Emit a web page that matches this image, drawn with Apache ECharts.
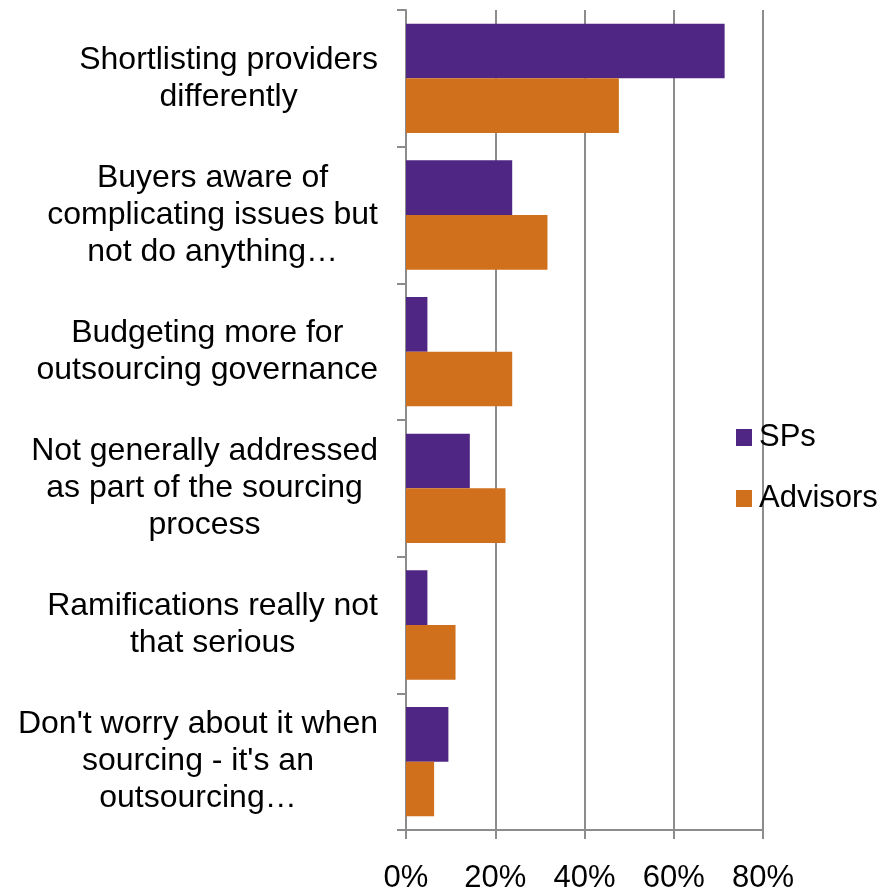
<!DOCTYPE html>
<html>
<head>
<meta charset="utf-8">
<script src="https://cdn.jsdelivr.net/npm/echarts@6/dist/echarts.min.js"></script>
<style>
  html, body { margin: 0; padding: 0; background: #fff; }
  #chart { width: 890px; height: 891px; }
</style>
</head>
<body>
<div id="chart"></div>
<script>
const categories = [
  "Shortlisting providers\ndifferently",
  "Buyers aware of\ncomplicating issues but\nnot do anything…",
  "Budgeting more for\noutsourcing governance",
  "Not generally addressed\nas part of the sourcing\nprocess",
  "Ramifications really not\nthat serious",
  "Don't worry about it when\nsourcing - it's an\noutsourcing…",
];
const spsValues = [71.4, 23.8, 4.8, 14.3, 4.8, 9.5];
const advisorsValues = [47.7, 31.7, 23.8, 22.3, 11.1, 6.3];
const xTicks = [0, 20, 40, 60, 80];

const FONT = "'Liberation Sans', Arial, sans-serif";
const GRAY = "#8c8c8c";

const chart = echarts.init(document.getElementById("chart"), null, {
  renderer: "canvas",
});

chart.setOption({
  backgroundColor: "#fff",
  animation: false,
  grid: {
    left: 406,
    right: 127,
    top: 10,
    bottom: 61,
    containLabel: false,
    outerBoundsMode: "none",
  },
  legend: {
    orient: "vertical",
    left: 731,
    top: 417,
    itemWidth: 16,
    itemHeight: 17,
    itemGap: 30,
    icon: "rect",
    textStyle: {
      fontFamily: FONT,
      fontSize: 31,
      color: "#000",
      padding: [0, 0, 0, 2],
    },
    data: ["SPs", "Advisors"],
  },
  xAxis: {
    type: "value",
    min: xTicks[0],
    max: xTicks[xTicks.length - 1],
    interval: 20,
    axisLine: { show: true, lineStyle: { color: GRAY, width: 2 } },
    axisTick: { show: true, length: 9, lineStyle: { color: GRAY, width: 2 } },
    splitLine: { show: true, lineStyle: { color: GRAY, width: 2 } },
    axisLabel: {
      formatter: "{value}%",
      fontFamily: FONT,
      fontSize: 31,
      color: "#000",
      margin: 33,
    },
  },
  yAxis: {
    type: "category",
    inverse: true,
    data: categories,
    axisLine: { show: true, lineStyle: { color: GRAY, width: 2 } },
    axisTick: { show: true, length: 9, lineStyle: { color: GRAY, width: 2 } },
    axisLabel: {
      margin: 28,
      interval: 0,
      fontFamily: FONT,
      fontSize: 32,
      lineHeight: 37,
      color: "#000",
      formatter: (value) =>
        value
          .split("\n")
          .map((l) => "{c|" + l + "}")
          .join("\n"),
      rich: {
        c: {
          align: "center",
          fontFamily: FONT,
          fontSize: 32,
          lineHeight: 37,
          color: "#000",
        },
      },
    },
  },
  series: [
    {
      name: "SPs",
      type: "bar",
      data: spsValues,
      barGap: "0%",
      barCategoryGap: "20%",
      itemStyle: { color: "#4f2683" },
    },
    {
      name: "Advisors",
      type: "bar",
      data: advisorsValues,
      barGap: "0%",
      barCategoryGap: "20%",
      itemStyle: { color: "#d0701c" },
    },
  ],
});
</script>
</body>
</html>
